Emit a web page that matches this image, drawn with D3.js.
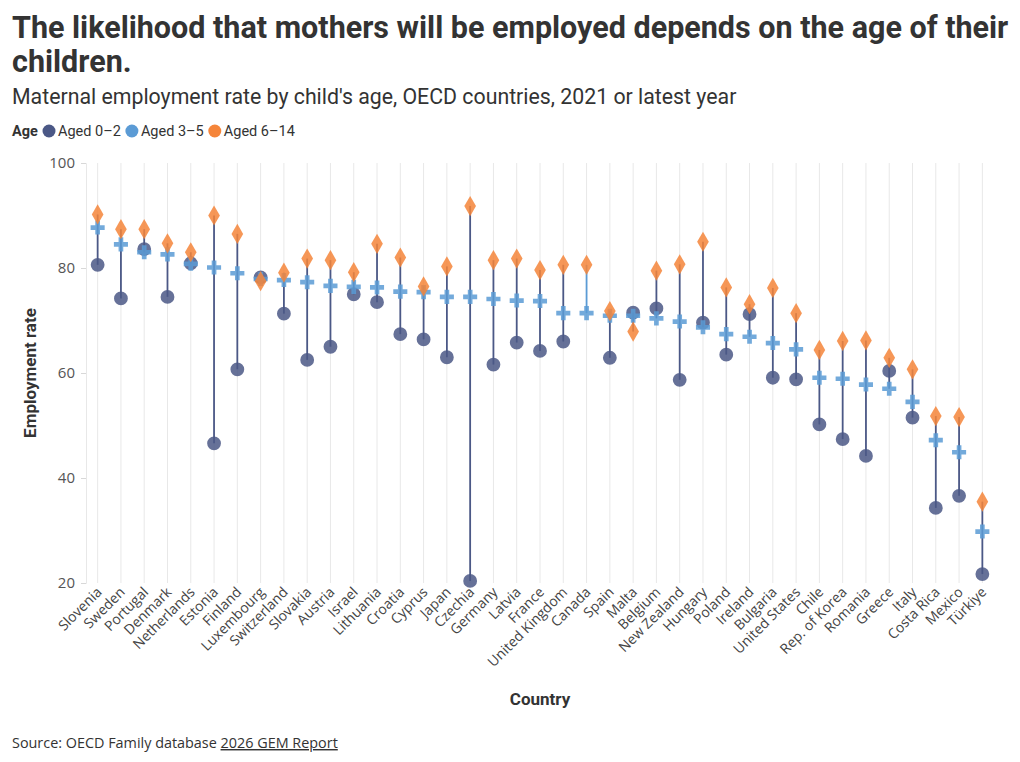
<!DOCTYPE html>
<html>
<head>
<meta charset="utf-8">
<script src="https://cdn.jsdelivr.net/npm/d3@7"></script>
<style>
  body { margin: 0; background: #fff; }
  svg { display: block; }
</style>
</head>
<body>
<svg id="chart" width="1020" height="762"></svg>
<script>
const countries = ["Slovenia", "Sweden", "Portugal", "Denmark", "Netherlands", "Estonia", "Finland", "Luxembourg",
  "Switzerland", "Slovakia", "Austria", "Israel", "Lithuania", "Croatia", "Cyprus", "Japan", "Czechia", "Germany",
  "Latvia", "France", "United Kingdom", "Canada", "Spain", "Malta", "Belgium", "New Zealand", "Hungary", "Poland",
  "Ireland", "Bulgaria", "United States", "Chile", "Rep. of Korea", "Romania", "Greece", "Italy", "Costa Rica",
  "Mexico", "Türkiye"];

// maternal employment rate (%) by age of youngest child
const aged02 = [80.6, 74.2, 83.6, 74.5, 80.9, 46.6, 60.7, 78.2, 71.3, 62.5, 65.0, 75.0, 73.5, 67.4, 66.4, 63.0, 20.4,
  61.6, 65.8, 64.2, 66.0, null, 62.9, 71.5, 72.3, 58.7, 69.6, 63.5, 71.2, 59.1, 58.8, 50.2, 47.4, 44.2, 60.4, 51.5,
  34.3, 36.6, 21.7];
const aged35 = [87.7, 84.5, 83.0, 82.6, 80.8, 80.1, 79.0, 77.9, 77.7, 77.3, 76.6, 76.4, 76.3, 75.5, 75.4, 74.5, 74.5,
  74.1, 73.8, 73.7, 71.4, 71.4, 70.9, 70.9, 70.4, 69.8, 68.7, 67.4, 66.9, 65.7, 64.5, 59.1, 58.9, 57.8, 57.0, 54.5,
  47.2, 44.9, 29.8];
const aged614 = [90.2, 87.4, 87.4, 84.7, 83.0, 90.0, 86.5, 77.5, 79.1, 81.8, 81.5, 79.2, 84.6, 82.0, 76.5, 80.3, 91.8,
  81.5, 81.8, 79.6, 80.6, 80.6, 71.8, 67.9, 79.5, 80.7, 85.0, 76.3, 73.1, 76.2, 71.4, 64.4, 66.1, 66.2, 62.9, 60.7,
  51.8, 51.6, 35.5];

const seriesNames = ["Aged 0–2", "Aged 3–5", "Aged 6–14"];
const yTicks = [20, 40, 60, 80, 100];

const colors = ["#4b5886", "#5b9bd5", "#f5853a"];
const textFont = "'Open Sans', sans-serif";
const headFont = "Roboto, sans-serif";

const svg = d3.select("#chart");

const x = d3.scalePoint()
  .domain(countries)
  .range([86, 994])
  .padding(0.5);

const y = d3.scaleLinear()
  .domain([20, 100])
  .range([583, 163]);

// title block
const title = svg.append("text")
  .attr("x", 12)
  .attr("font-family", headFont)
  .attr("font-weight", 700)
  .attr("font-size", 30.5)
  .attr("fill", "#333");
title.append("tspan").attr("x", 12).attr("y", 38)
  .text("The likelihood that mothers will be employed depends on the age of their");
title.append("tspan").attr("x", 12).attr("y", 72)
  .text("children.");

svg.append("text")
  .attr("x", 12).attr("y", 104)
  .attr("font-family", headFont)
  .attr("font-size", 21.3)
  .attr("fill", "#333")
  .text("Maternal employment rate by child's age, OECD countries, 2021 or latest year");

// legend
const legend = svg.append("g").attr("transform", "translate(12,131)");
legend.append("text")
  .attr("y", 5)
  .attr("font-family", headFont)
  .attr("font-weight", 700)
  .attr("font-size", 14.5)
  .attr("fill", "#333")
  .text("Age");
let lx = 31;
seriesNames.forEach((name, i) => {
  legend.append("circle")
    .attr("cx", lx + 6).attr("cy", 0).attr("r", 6.5)
    .attr("fill", colors[i]);
  const t = legend.append("text")
    .attr("x", lx + 15).attr("y", 5)
    .attr("font-family", headFont)
    .attr("font-size", 14.5)
    .attr("fill", "#333")
    .text(name);
  lx += 15 + t.node().getComputedTextLength() + 5;
});

// vertical grid lines
svg.append("g")
  .selectAll("line")
  .data(countries)
  .join("line")
  .attr("x1", d => x(d)).attr("x2", d => x(d))
  .attr("y1", y(100)).attr("y2", y(20))
  .attr("stroke", "#e8e8e8")
  .attr("stroke-width", 1);

// y axis
const yAxis = svg.append("g")
  .attr("transform", "translate(86,0)")
  .call(d3.axisLeft(y).tickValues(yTicks).tickSize(5).tickPadding(6));
yAxis.select(".domain").attr("stroke", "#e8e8e8");
yAxis.selectAll(".tick line").attr("stroke", "#d8d8d8");
yAxis.selectAll(".tick text")
  .attr("font-family", textFont)
  .attr("font-size", 15)
  .attr("fill", "#555");

svg.append("text")
  .attr("transform", `translate(36,${(y(20) + y(100)) / 2}) rotate(-90)`)
  .attr("text-anchor", "middle")
  .attr("font-family", headFont)
  .attr("font-weight", 700)
  .attr("font-size", 17)
  .attr("fill", "#333")
  .text("Employment rate");

// x labels
svg.append("g")
  .selectAll("text")
  .data(countries)
  .join("text")
  .attr("transform", d => `translate(${x(d) + 5},${y(20) + 10}) rotate(-45)`)
  .attr("text-anchor", "end")
  .attr("font-family", textFont)
  .attr("font-size", 14)
  .attr("fill", "#444")
  .text(d => d);

svg.append("text")
  .attr("x", 540).attr("y", 705)
  .attr("text-anchor", "middle")
  .attr("font-family", headFont)
  .attr("font-weight", 700)
  .attr("font-size", 17)
  .attr("fill", "#333")
  .text("Country");

// range lines
const rows = countries.map((c, i) => {
  const vals = [aged02[i], aged35[i], aged614[i]].filter(v => v != null);
  return { country: c, lo: d3.min(vals), hi: d3.max(vals), has02: aged02[i] != null };
});

svg.append("g")
  .selectAll("line")
  .data(rows)
  .join("line")
  .attr("x1", d => x(d.country)).attr("x2", d => x(d.country))
  .attr("y1", d => y(d.lo)).attr("y2", d => y(d.hi))
  .attr("stroke", d => d.has02 ? colors[0] : colors[1])
  .attr("stroke-width", 1.8);

// markers
const series = [aged02, aged35, aged614];
const shapes = [
  d3.symbol().type(d3.symbolCircle).size(150),
  d3.symbol().type(d3.symbolCross).size(110),
  d3.symbol().type(d3.symbolDiamond).size(118)
];

series.forEach((vals, s) => {
  svg.append("g")
    .selectAll("path")
    .data(countries.map((c, i) => ({ country: c, value: vals[i] })).filter(d => d.value != null))
    .join("path")
    .attr("transform", d => `translate(${x(d.country)},${y(d.value)})`)
    .attr("d", shapes[s]())
    .attr("fill", colors[s])
    .attr("fill-opacity", 0.85);
});

// source
const src = svg.append("text")
  .attr("x", 12).attr("y", 748)
  .attr("font-family", textFont)
  .attr("font-size", 14.4)
  .attr("fill", "#333");
src.append("tspan").text("Source: OECD Family database ");
src.append("tspan").attr("text-decoration", "underline").text("2026 GEM Report");
</script>
</body>
</html>
